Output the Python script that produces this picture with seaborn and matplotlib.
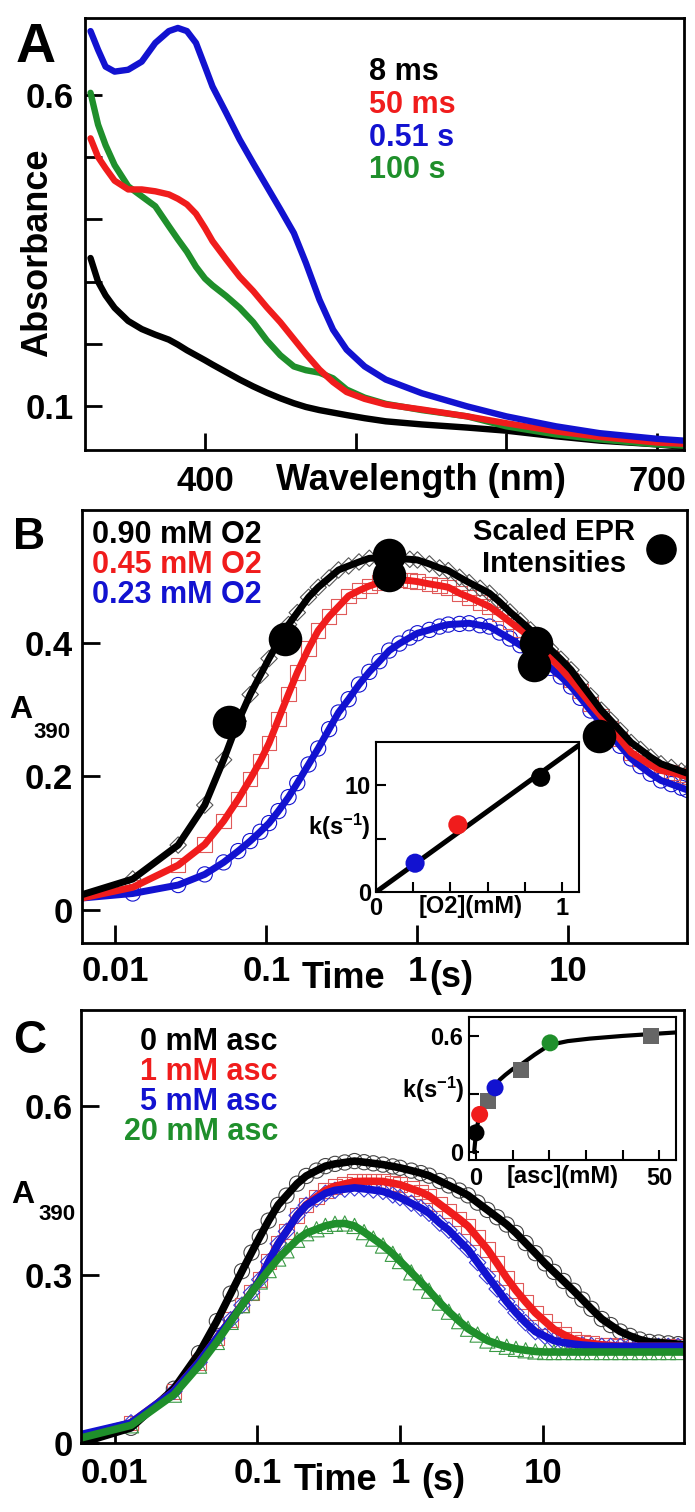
import seaborn as sns
import matplotlib.pyplot as plt
from matplotlib.lines import Line2D

# ---------------- data ----------------
# panel A: spectra
wavelength = [324, 329, 334, 340, 349, 358, 367, 376, 382, 388, 394, 400, 405, 414, 423, 432,
              441, 450, 459, 467, 476, 485, 494, 506, 520, 544, 574, 600, 633, 662, 700, 718]
abs_8ms = [0.338, 0.300, 0.278, 0.258, 0.237, 0.224, 0.215, 0.207, 0.199, 0.190, 0.182, 0.174,
           0.167, 0.155, 0.143, 0.132, 0.122, 0.113, 0.105, 0.099, 0.094, 0.090, 0.086, 0.081,
           0.076, 0.071, 0.066, 0.061, 0.052, 0.045, 0.039, 0.035]
abs_50ms = [0.530, 0.500, 0.482, 0.462, 0.448, 0.448, 0.445, 0.440, 0.433, 0.424, 0.409, 0.386,
            0.365, 0.336, 0.308, 0.285, 0.259, 0.235, 0.208, 0.184, 0.159, 0.139, 0.123, 0.112,
            0.103, 0.095, 0.084, 0.073, 0.060, 0.051, 0.042, 0.040]
abs_051s = [0.702, 0.672, 0.645, 0.637, 0.640, 0.653, 0.683, 0.702, 0.707, 0.702, 0.683, 0.645,
            0.613, 0.571, 0.528, 0.490, 0.453, 0.416, 0.378, 0.330, 0.271, 0.223, 0.191, 0.164,
            0.143, 0.121, 0.100, 0.084, 0.068, 0.057, 0.048, 0.045]
abs_100s = [0.603, 0.552, 0.519, 0.487, 0.453, 0.437, 0.421, 0.389, 0.368, 0.348, 0.324, 0.305,
            0.294, 0.277, 0.258, 0.235, 0.206, 0.182, 0.164, 0.158, 0.154, 0.145, 0.127, 0.114,
            0.104, 0.094, 0.084, 0.068, 0.055, 0.047, 0.039, 0.037]
spectra_labels = ["8 ms", "50 ms", "0.51 s", "100 s"]

# panel B: A390 traces at three O2 concentrations
time_b = [0.006, 0.013, 0.026, 0.039, 0.052, 0.065, 0.078, 0.091, 0.104, 0.12, 0.14, 0.16, 0.19,
          0.22, 0.26, 0.3, 0.35, 0.41, 0.48, 0.56, 0.65, 0.76, 0.89, 1.0, 1.2, 1.4, 1.6, 1.9, 2.2,
          2.6, 3.0, 3.5, 4.1, 4.8, 5.6, 6.5, 7.6, 8.9, 10.4, 12, 14, 16.5, 19, 22, 26, 30, 35, 41,
          48, 56, 61]
a390_o2_090 = [0.0225, 0.046, 0.097, 0.157, 0.225, 0.283, 0.323, 0.352, 0.377, 0.402, 0.428, 0.446,
               0.469, 0.484, 0.498, 0.510, 0.516, 0.522, 0.5275, 0.528, 0.5275, 0.527, 0.526, 0.525,
               0.519, 0.513, 0.509, 0.499, 0.491, 0.4825, 0.475, 0.462, 0.447, 0.4335, 0.420, 0.406,
               0.391, 0.376, 0.360, 0.341, 0.321, 0.2995, 0.2845, 0.269, 0.251, 0.2405, 0.229,
               0.219, 0.2135, 0.208, 0.205]
a390_o2_045 = [0.0175, 0.0336, 0.0668, 0.098, 0.133, 0.166, 0.196, 0.223, 0.250, 0.286, 0.324, 0.356,
               0.392, 0.419, 0.440, 0.455, 0.471, 0.479, 0.486, 0.491, 0.493, 0.495, 0.494, 0.4925,
               0.489, 0.4865, 0.484, 0.475, 0.469, 0.4615, 0.455, 0.444, 0.432, 0.4205, 0.409, 0.395,
               0.378, 0.362, 0.345, 0.328, 0.309, 0.290, 0.273, 0.256, 0.236, 0.227, 0.217, 0.209,
               0.206, 0.202, 0.200]
a390_o2_023 = [0.0175, 0.0243, 0.037, 0.053, 0.071, 0.088, 0.103, 0.117, 0.130, 0.148, 0.169, 0.190,
               0.218, 0.242, 0.271, 0.296, 0.316, 0.338, 0.357, 0.373, 0.389, 0.3995, 0.4085, 0.415,
               0.420, 0.425, 0.428, 0.429, 0.430, 0.427, 0.425, 0.416, 0.407, 0.397, 0.388, 0.377,
               0.363, 0.350, 0.335, 0.318, 0.299, 0.280, 0.263, 0.246, 0.227, 0.2155, 0.204, 0.194,
               0.1885, 0.183, 0.180]
o2_labels = ["0.90 mM O2", "0.45 mM O2", "0.23 mM O2"]
epr_time = [0.0565, 0.132, 0.652, 0.652, 6.14, 5.93, 15.9]
epr_a390 = [0.2825, 0.4065, 0.5325, 0.5025, 0.400, 0.3675, 0.260]

# panel B inset: k vs [O2]
o2_conc = [0.21, 0.44, 0.885]
o2_k = [2.7, 6.3, 10.75]
o2_fit_conc = [0.0, 1.09]
o2_fit_k = [0.0, 13.75]

# panel C: A390 traces at four ascorbate concentrations
time_c = [0.0058, 0.013, 0.026, 0.039, 0.052, 0.065, 0.078, 0.091, 0.104, 0.12, 0.14, 0.16, 0.19,
          0.22, 0.26, 0.3, 0.35, 0.41, 0.48, 0.56, 0.65, 0.76, 0.89, 1.0, 1.2, 1.4, 1.6, 1.9, 2.2,
          2.6, 3.0, 3.5, 4.1, 4.8, 5.6, 6.5, 7.6, 8.9, 10.4, 12, 14, 16.5, 19, 22, 26, 30, 35, 41,
          48, 56, 65, 76, 89, 98]
a390_asc_0 = [0.0, 0.027, 0.0966, 0.160, 0.217, 0.266, 0.306, 0.339, 0.367, 0.396, 0.424, 0.4405,
              0.4618, 0.4755, 0.485, 0.493, 0.497, 0.4995, 0.502, 0.500, 0.498, 0.4957, 0.4925,
              0.490, 0.485, 0.4806, 0.476, 0.4665, 0.4586, 0.4495, 0.441, 0.428, 0.415, 0.402,
              0.389, 0.374, 0.356, 0.338, 0.3198, 0.3047, 0.2885, 0.271, 0.2553, 0.2388, 0.2208,
              0.210, 0.1985, 0.1907, 0.1842, 0.180, 0.179, 0.1774, 0.176, 0.175]
a390_asc_1 = [0.012, 0.0358, 0.092, 0.1438, 0.1868, 0.2194, 0.2454, 0.268, 0.2908, 0.3227, 0.3548,
              0.3768, 0.4053, 0.4241, 0.438, 0.4497, 0.4571, 0.4613, 0.4655, 0.466, 0.466, 0.4657,
              0.4625, 0.460, 0.4528, 0.4467, 0.4397, 0.4252, 0.4131, 0.399, 0.386, 0.3658, 0.345,
              0.3197, 0.294, 0.2718, 0.2513, 0.2318, 0.2165, 0.2025, 0.1932, 0.1845, 0.1797,
              0.1773, 0.1747, 0.1736, 0.1723, 0.172, 0.172, 0.172, 0.172, 0.172, 0.172, 0.172]
a390_asc_5 = [0.015, 0.0358, 0.092, 0.1438, 0.1868, 0.2194, 0.2454, 0.268, 0.2908, 0.3227, 0.3548,
              0.3768, 0.4053, 0.4232, 0.4348, 0.4445, 0.4499, 0.4521, 0.4543, 0.4526, 0.4505,
              0.448, 0.4417, 0.437, 0.4269, 0.4183, 0.4091, 0.3916, 0.379, 0.3601, 0.3445, 0.3213,
              0.2975, 0.2743, 0.2516, 0.2321, 0.2142, 0.1983, 0.190, 0.1823, 0.1788, 0.1761,
              0.1744, 0.1732, 0.172, 0.172, 0.172, 0.172, 0.172, 0.172, 0.172, 0.172, 0.172, 0.172]
a390_asc_20 = [0.009, 0.0315, 0.0861, 0.1378, 0.180, 0.2157, 0.2454, 0.268, 0.2876, 0.3079, 0.3285,
               0.3431, 0.3619, 0.3736, 0.3806, 0.3866, 0.3904, 0.3909, 0.3865, 0.3755, 0.364,
               0.3516, 0.3369, 0.324, 0.3038, 0.2864, 0.2712, 0.250, 0.2338, 0.217, 0.2035, 0.1931,
               0.1825, 0.1765, 0.1714, 0.1677, 0.1651, 0.163, 0.162, 0.162, 0.162, 0.162, 0.162,
               0.162, 0.162, 0.162, 0.162, 0.162, 0.162, 0.162, 0.162, 0.162, 0.162, 0.162]
asc_labels = ["0 mM asc", "1 mM asc", "5 mM asc", "20 mM asc"]

# panel C inset: k vs [asc]
asc_conc = [0, 1, 5.2, 20.2]
asc_k = [0.10, 0.195, 0.333, 0.566]
asc_extra_conc = [3.2, 12.2, 47.7]
asc_extra_k = [0.264, 0.424, 0.602]
asc_fit_conc = [-0.5, 0, 0.5, 1, 1.5, 2, 3, 4, 5, 6.5, 8, 10, 12, 16, 20, 25, 31, 40, 48, 54.5]
asc_fit_k = [0.0, 0.10, 0.15, 0.185, 0.21, 0.235, 0.27, 0.305, 0.335, 0.375, 0.40, 0.43, 0.45,
             0.505, 0.555, 0.575, 0.588, 0.602, 0.612, 0.62]

# ---------------- style ----------------
sns.set_style("ticks")
plt.rcParams["font.family"] = ["Liberation Sans", "DejaVu Sans"]
plt.rcParams["font.weight"] = "bold"
plt.rcParams["mathtext.default"] = "regular"
plt.rcParams["text.color"] = "black"
plt.rcParams["axes.labelcolor"] = "black"
plt.rcParams["xtick.color"] = "black"
plt.rcParams["ytick.color"] = "black"

BLACK = "#000000"
RED = "#f01c1c"
BLUE = "#1212d0"
GREEN = "#1f8f2b"
GRAY = "#666666"

W, H = 695, 1512
fig = plt.figure(figsize=(W / 100, H / 100), dpi=100)


def box(x0, y0, x1, y1):
    # pixel box (top-left origin) -> figure fraction rect
    return [x0 / W, 1 - y1 / H, (x1 - x0) / W, (y1 - y0) / H]


def ftext(x, y, s, **kw):
    kw.setdefault("fontweight", "bold")
    kw.setdefault("color", "black")
    return fig.text(x / W, 1 - y / H, s, **kw)


def style_axes(ax, lw, tlen, twid, size, xpad, ypad):
    for sp in ax.spines.values():
        sp.set_visible(True)
        sp.set_linewidth(lw)
        sp.set_color("black")
    ax.tick_params(direction="in", length=tlen, width=twid, labelsize=size,
                   colors="black", labelcolor="black")
    ax.tick_params(axis="x", pad=xpad)
    ax.tick_params(axis="y", pad=ypad)
    ax.tick_params(which="minor", length=0)
    ax.set_xlabel("")
    ax.set_ylabel("")
    for lab in ax.get_xticklabels() + ax.get_yticklabels():
        lab.set_fontweight("bold")


# ---------------- panel A ----------------
axA = fig.add_axes(box(84.5, 18, 684, 450))
for vals, col in zip([abs_8ms, abs_100s, abs_50ms, abs_051s], [BLACK, GREEN, RED, BLUE]):
    sns.lineplot(x=wavelength, y=vals, color=col, lw=4.6, ax=axA, legend=False)
axA.set_xlim(320, 718)
axA.set_ylim(0.03, 0.723)
axA.set_xticks([400, 500, 600, 700])
axA.set_xticklabels(["400", "", "", "700"])
axA.set_yticks([0.1, 0.2, 0.3, 0.4, 0.5, 0.6])
axA.set_yticklabels(["0.1", "", "", "", "", "0.6"])
style_axes(axA, 2.0, 12, 2.0, 25, 11, 8)

ftext(16, 62, "A", fontsize=40)
ftext(38, 253, "Absorbance", fontsize=26, rotation=90, ha="center", va="center")
ftext(421, 490, "Wavelength (nm)", fontsize=26, ha="center", va="baseline")
for lab, col, yb in zip(spectra_labels, [BLACK, RED, BLUE, GREEN], [80, 113, 146, 178]):
    ftext(369, yb, lab, fontsize=22, color=col, ha="left", va="baseline")

# ---------------- panel B ----------------
axB = fig.add_axes(box(82, 510, 687, 943))
axB.set_xscale("log")
for vals, col, mk, sz in zip([a390_o2_023, a390_o2_045, a390_o2_090],
                             [BLUE, "#e05a5a", "#555555"], ["o", "s", "D"], [120, 110, 70]):
    sns.scatterplot(x=time_b[1:], y=vals[1:], marker=mk, s=sz, facecolor="none",
                    edgecolor=col, linewidth=0.8, ax=axB, legend=False)
for vals, col in zip([a390_o2_023, a390_o2_045, a390_o2_090], [BLUE, RED, BLACK]):
    sns.lineplot(x=time_b, y=vals, color=col, lw=5, ax=axB, legend=False)
sns.scatterplot(x=epr_time, y=epr_a390, s=500, color=BLACK, edgecolor=BLACK, ax=axB,
                legend=False, zorder=5)
axB.set_xlim(0.006, 61)
axB.set_ylim(-0.05, 0.6)
axB.set_xticks([0.01, 0.1, 1, 10])
axB.set_xticklabels(["0.01", "0.1", "1", "10"])
axB.set_yticks([0, 0.2, 0.4])
axB.set_yticklabels(["0", "0.2", "0.4"])
style_axes(axB, 2.0, 13, 2.0, 25, 8.5, 6.5)

epr_handle = Line2D([], [], marker="o", ls="none", color=BLACK, markersize=21)
leg = axB.legend(handles=[epr_handle], labels=["Scaled EPR\nIntensities"], loc="center",
                 bbox_to_anchor=(574 / W, 1 - 548 / H), bbox_transform=fig.transFigure,
                 frameon=False, markerfirst=False, fontsize=21, handletextpad=0.4,
                 handlelength=1.0, borderpad=0, borderaxespad=0, labelcolor="black")
for t in leg.get_texts():
    t.set_multialignment("center")
    t.set_fontweight("bold")

ftext(13, 549, "B", fontsize=32)
ftext(9, 718, "A", fontsize=23)
ftext(33, 738, "390", fontsize=16)
ftext(302, 988, "Time", fontsize=26, ha="left", va="baseline")
ftext(429, 987, "(s)", fontsize=26, ha="left", va="baseline")
for lab, col, yb in zip(o2_labels, [BLACK, RED, BLUE], [543, 573, 603]):
    ftext(92, yb, lab, fontsize=22, color=col, ha="left", va="baseline")

# inset B
axBi = fig.add_axes(box(376, 742, 579, 892))
axBi.set_facecolor("white")
sns.lineplot(x=o2_fit_conc, y=o2_fit_k, color=BLACK, lw=3.6, ax=axBi, legend=False)
sns.scatterplot(x=o2_conc, y=o2_k, hue=o2_labels[::-1], palette=[BLUE, RED, BLACK], s=190,
                edgecolor="none", ax=axBi, legend=False, zorder=4)
axBi.set_xlim(0, 1.091)
axBi.set_ylim(0, 14.06)
axBi.set_xticks([0, 0.2, 0.4, 0.6, 0.8, 1.0])
axBi.set_xticklabels(["0", "", "", "", "", "1"])
axBi.set_yticks([0, 5, 10])
axBi.set_yticklabels(["0", "", "10"])
style_axes(axBi, 1.5, 7, 1.5, 17, 3.5, 3.5)
ftext(471, 906, "[O2](mM)", fontsize=17, ha="center", va="center")
ftext(371, 827, "k(s$^{-1}$)", fontsize=17, ha="right", va="center")

# ---------------- panel C ----------------
axC = fig.add_axes(box(81, 1010, 684, 1443))
axC.set_xscale("log")
for vals, col, mk, sz in zip([a390_asc_0, a390_asc_1, a390_asc_5, a390_asc_20],
                             ["#444444", "#e05a5a", "#3a3ad8", "#3a9a45"],
                             ["o", "s", "D", "^"], [120, 110, 70, 120]):
    sns.scatterplot(x=time_c[1:-1], y=vals[1:-1], marker=mk, s=sz, facecolor="none",
                    edgecolor=col, linewidth=0.8, ax=axC, legend=False)
for vals, col in zip([a390_asc_0, a390_asc_1, a390_asc_5, a390_asc_20],
                     [BLACK, RED, BLUE, GREEN]):
    sns.lineplot(x=time_c, y=vals, color=col, lw=5.5, ax=axC, legend=False)
axC.set_xlim(0.0058, 98)
axC.set_ylim(0, 0.771)
axC.set_xticks([0.01, 0.1, 1, 10])
axC.set_xticklabels(["0.01", "0.1", "1", "10"])
axC.set_yticks([0, 0.3, 0.6])
axC.set_yticklabels(["0", "0.3", "0.6"])
style_axes(axC, 2.0, 13, 2.0, 25, 10, 6)

ftext(13, 1053, "C", fontsize=33)
ftext(11, 1203, "A", fontsize=23)
ftext(38, 1220, "390", fontsize=16)
ftext(294, 1490, "Time", fontsize=26, ha="left", va="baseline")
ftext(421, 1490, "(s)", fontsize=26, ha="left", va="baseline")
for lab, col, yb in zip(asc_labels, [BLACK, RED, BLUE, GREEN], [1050, 1080, 1110, 1140]):
    ftext(278, yb, lab, fontsize=22, color=col, ha="right", va="baseline")

# inset C
axCi = fig.add_axes(box(469, 1017, 676, 1160))
axCi.set_facecolor("white")
sns.lineplot(x=asc_fit_conc, y=asc_fit_k, color=BLACK, lw=3.0, ax=axCi, legend=False, sort=False)
sns.scatterplot(x=asc_extra_conc, y=asc_extra_k, marker="s", s=130, color=GRAY,
                edgecolor="none", ax=axCi, legend=False, zorder=4)
sns.scatterplot(x=asc_conc, y=asc_k, hue=asc_labels, palette=[BLACK, RED, BLUE, GREEN], s=150,
                edgecolor="none", ax=axCi, legend=False, zorder=4)
axCi.set_xlim(-1.9, 54.5)
axCi.set_ylim(-0.041, 0.70)
axCi.set_xticks([0, 10, 20, 30, 40, 50])
axCi.set_xticklabels(["0", "", "", "", "", "50"])
axCi.set_yticks([0, 0.3, 0.6])
axCi.set_yticklabels(["0", "", "0.6"])
style_axes(axCi, 1.5, 7, 1.5, 17, 5, 4)
ftext(563, 1177, "[asc](mM)", fontsize=17, ha="center", va="center")
ftext(465, 1090, "k(s$^{-1}$)", fontsize=17, ha="right", va="center")

fig.savefig("out.png", dpi=100)
